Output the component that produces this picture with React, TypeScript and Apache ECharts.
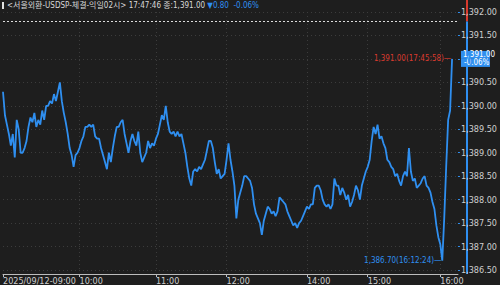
import React, { useEffect, useRef } from "react";
import * as echarts from "echarts";

// Tick-by-tick USD/KRW prices (left to right)
const prices: number[] = [
  1390.3, 1389.8, 1389.6, 1389.4, 1389.15, 1389.4, 1388.9, 1389.7, 1389.5, 1389.0,
  1389.0, 1389.1, 1389.25, 1389.55, 1389.75, 1389.65, 1389.85, 1389.55, 1389.7, 1389.6,
  1389.9, 1389.7, 1390.0, 1390.0, 1390.1, 1390.05, 1390.25, 1390.1, 1390.3, 1390.5,
  1390.1, 1389.85, 1389.65, 1389.4, 1389.1, 1388.95, 1388.7, 1388.95, 1389.0, 1389.1,
  1389.25, 1389.35, 1389.55, 1389.55, 1389.6, 1389.55, 1389.6, 1389.35, 1389.3, 1389.3,
  1389.1, 1388.95, 1388.8, 1388.65, 1389.0, 1388.8, 1389.1, 1389.35,
  1389.55, 1389.55, 1389.65, 1389.7, 1389.4, 1389.2, 1389.0, 1389.25, 1389.4, 1389.25,
  1389.15, 1389.45, 1389.0, 1388.8, 1388.9, 1389.0, 1389.25, 1389.1, 1389.2, 1389.15,
  1389.3, 1389.4, 1389.6, 1389.8, 1389.7, 1390.0, 1389.65, 1389.45, 1389.4, 1389.45,
  1389.35, 1389.45, 1389.35, 1389.4, 1389.2, 1389.0, 1388.7, 1388.45, 1388.3, 1388.6,
  1388.65, 1388.6, 1388.7, 1388.65, 1388.75, 1388.85, 1389.05, 1389.25, 1389.25, 1389.1,
  1388.8, 1388.55, 1388.65, 1388.45, 1388.5, 1388.55, 1388.85, 1389.2,
  1388.85, 1388.6, 1388.3, 1387.6, 1388.0, 1388.15, 1388.3, 1388.5, 1388.5, 1388.45,
  1388.4, 1388.25, 1387.9, 1387.7, 1387.6, 1387.5, 1387.25, 1387.55, 1387.7, 1387.85,
  1387.8, 1387.7, 1387.75, 1387.65, 1387.75, 1388.05, 1388.0, 1387.95, 1387.9, 1387.75,
  1387.65, 1387.55, 1387.45, 1387.5, 1387.4, 1387.5, 1387.55, 1387.65, 1387.75, 1387.85,
  1387.8, 1387.9, 1387.9, 1388.25, 1388.3, 1388.3, 1388.2, 1388.0, 1387.9, 1387.85,
  1387.9, 1387.8, 1387.9, 1388.45, 1388.3, 1388.3,
  1388.1, 1388.25, 1388.15, 1388.0, 1388.1, 1387.85, 1387.95, 1388.1, 1388.3, 1388.2,
  1388.0, 1388.3, 1388.45, 1388.6, 1388.7, 1388.85, 1389.25, 1389.55, 1389.4, 1389.6,
  1389.3, 1389.35, 1389.2, 1389.1, 1388.85, 1388.8, 1388.7, 1388.65, 1388.5, 1388.55,
  1388.4, 1388.3, 1388.5, 1388.6, 1388.5, 1389.1, 1388.6, 1388.4, 1388.45, 1388.25,
  1388.3, 1388.35, 1388.45, 1388.5, 1388.3, 1388.25, 1388.15, 1387.95, 1387.8, 1387.45,
  1387.2, 1387.05, 1386.7, 1387.6, 1388.7, 1389.7, 1389.9, 1391.0,
];

const totalSlots = 233;
const tickIndex = [0, 39, 78, 114, 155, 186, 223];
const tickLabels = ["2025/09/12-09:00", "10:00", "11:00", "12:00", "14:00", "15:00", "16:00"];

const yMin = 1386.5;
const yMax = 1392;
const yStep = 0.5;

const prevClose = 1391.8;
const lastPrice = 1391.0;
const pctText = "-0.06%";
const titleMain = "<서울외환-USDSP-체결-익일02시> 17:47:46 종:1,391.00 ";
const changeText = "▼0.80  -0.06%";
const maxTime = "17:45:58";
const minTime = "16:12:24";

const FONT = "'Liberation Sans Narrow', 'DejaVu Sans Condensed', 'Noto Sans CJK KR', sans-serif";
const BLUE = "#2f8ff0";
const RED = "#d83a2e";

const fmt = (v: number) =>
  v.toLocaleString("en-US", { minimumFractionDigits: 2, maximumFractionDigits: 2 });

export default function App() {
  const ref = useRef<HTMLDivElement>(null);

  useEffect(() => {
    if (!ref.current) return;
    const chart = echarts.init(ref.current, undefined, { renderer: "svg" });

    const categories = Array.from({ length: totalSlots }, (_, i) => {
      const k = tickIndex.indexOf(i);
      return k >= 0 ? tickLabels[k] : String(i);
    });
    const isTick = (i: number) => tickIndex.includes(i);

    chart.setOption({
      animation: false,
      backgroundColor: "#1e1e1e",
      title: {
        left: 7,
        top: 0,
        padding: 0,
        text: `{a|${titleMain}}{b|${changeText}}`,
        textStyle: {
          fontWeight: "normal",
          rich: {
            a: { color: "#d8d8d8", fontSize: 8, fontWeight: "normal", fontFamily: FONT, lineHeight: 11 },
            b: { color: BLUE, fontSize: 8, fontWeight: "normal", fontFamily: FONT, lineHeight: 11 },
          },
        },
      },
      grid: { left: 3, right: 33, top: 12, bottom: 13 },
      xAxis: {
        type: "category",
        boundaryGap: false,
        data: categories,
        offset: 4,
        axisLine: { lineStyle: { color: "#bdbdbd", width: 1 } },
        axisTick: { interval: (i: number) => isTick(i), length: 3, lineStyle: { color: "#bdbdbd" } },
        axisLabel: {
          interval: (i: number) => isTick(i),
          align: "left",
          margin: 2,
          color: "#cfcfcf",
          fontSize: 9,
          fontFamily: FONT,
          formatter: (v: string) => (tickLabels.includes(v) ? v : ""),
        },
        splitLine: {
          show: true,
          interval: (i: number) => isTick(i) && i > 0,
          lineStyle: { color: "#3c3c3c", type: [1, 3] },
        },
      },
      yAxis: {
        type: "value",
        position: "right",
        min: yMin,
        max: yMax,
        interval: yStep,
        axisLine: { show: false },
        axisTick: { show: true, length: 2, lineStyle: { color: BLUE } },
        axisLabel: {
          margin: 3,
          color: "#cfcfcf",
          fontSize: 9,
          fontFamily: FONT,
          formatter: (v: number) =>
            Math.abs(v - lastPrice) < 1e-6
              ? `{t|${fmt(v)}}\n{p|${pctText}}`
              : fmt(v),
          rich: {
            t: {
              color: "#ffffff", fontSize: 8, fontFamily: FONT, lineHeight: 8,
              backgroundColor: BLUE, width: 27, padding: [0, 0, 0, 2],
            },
            p: {
              color: "#ffffff", fontSize: 8, fontFamily: FONT, lineHeight: 8,
              backgroundColor: BLUE, width: 26, padding: [0, 0, 0, 3],
            },
          },
        },
        splitLine: { show: true, lineStyle: { color: "#3c3c3c", type: [1, 3] } },
      },
      series: [
        {
          type: "line",
          data: prices,
          showSymbol: false,
          symbol: "none",
          lineStyle: { color: BLUE, width: 1.8 },
          markPoint: {
            symbol: "circle",
            symbolSize: 0,
            data: [
              {
                type: "max",
                label: {
                  show: true,
                  position: "left",
                  distance: 1,
                  color: RED,
                  fontSize: 8,
                  fontFamily: FONT,
                  formatter: (p: any) => `${fmt(p.value)}(${maxTime})—`,
                },
              },
              {
                type: "min",
                label: {
                  show: true,
                  position: "left",
                  distance: 1,
                  color: BLUE,
                  fontSize: 8,
                  fontFamily: FONT,
                  formatter: (p: any) => `${fmt(p.value)}(${minTime})—`,
                },
              },
            ],
          },
          markLine: {
            symbol: "none",
            silent: true,
            label: { show: false },
            data: [
              {
                yAxis: prevClose,
                lineStyle: { color: "#dcdcdc", type: [2, 2], width: 1 },
              },
            ],
          },
        },
      ],
    });

    const yp = chart.convertToPixel({ yAxisIndex: 0 }, prevClose) as number;
    const yb = chart.convertToPixel({ yAxisIndex: 0 }, yMin) as number;
    const yl = chart.convertToPixel({ yAxisIndex: 0 }, lastPrice) as number;
    const xr = 500 - 33;
    chart.setOption({
      graphic: [
        { type: "rect", left: 2, top: 2, shape: { width: 2, height: 7 }, style: { fill: "#e0e0e0" } },
        {
          type: "line",
          shape: { x1: xr, y1: 0, x2: xr, y2: yp },
          style: { stroke: RED, lineWidth: 2 },
        },
        {
          type: "line",
          shape: { x1: xr, y1: yp, x2: xr, y2: yb + 4 },
          style: { stroke: BLUE, lineWidth: 2 },
        },
        {
          type: "polygon",
          z: 100,
          shape: {
            points: [
              [xr + 1, yl],
              [xr + 3.5, yl - 8],
              [xr + 3.5, yl + 8],
            ],
          },
          style: { fill: BLUE },
        },
      ],
    });

    return () => chart.dispose();
  }, []);

  return (
    <div
      ref={ref}
      style={{ position: "fixed", left: 0, top: 0, width: 500, height: 285 }}
    />
  );
}
